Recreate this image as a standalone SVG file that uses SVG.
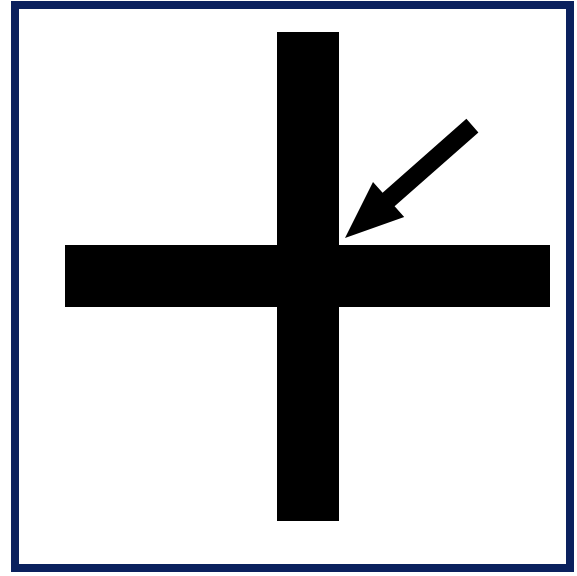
<svg xmlns="http://www.w3.org/2000/svg" width="577" height="576" viewBox="0 0 577 576">
<style>
.frame{fill:#ffffff;stroke:#0b215e;stroke-width:8}
.ink{fill:#000000}
</style>
<rect class="frame" x="15" y="5" width="555" height="563"/>
<g id="cross">
<rect class="ink" x="277" y="32" width="62" height="489"/>
<rect class="ink" x="65" y="245" width="485" height="62"/>
</g>
<g id="arrow">
<polygon class="ink" points="345,238 373,182 382.6,192.7 466.4,118.8 478.4,132.4 394.6,206.3 404.2,217.1"/>
</g>
</svg>
